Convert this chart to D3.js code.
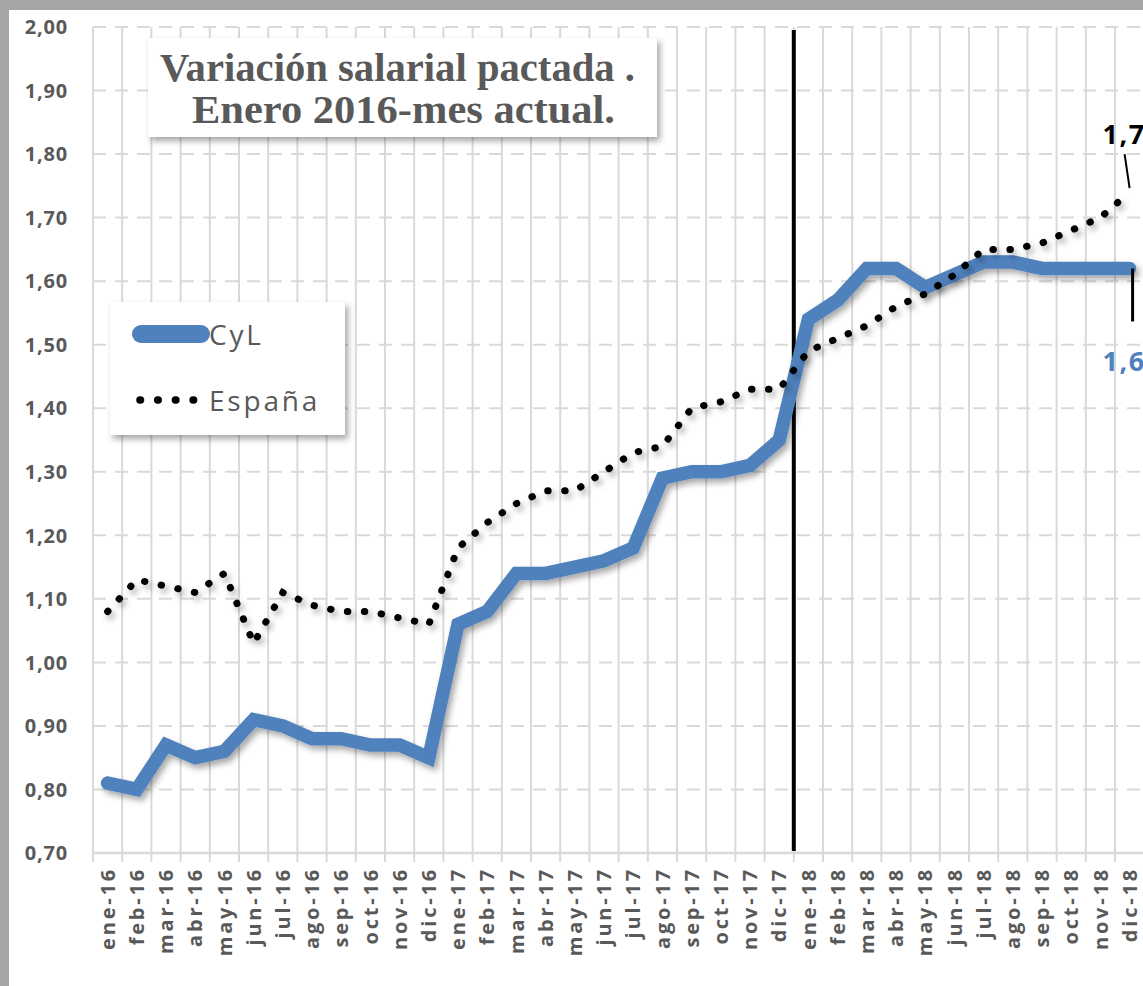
<!DOCTYPE html>
<html>
<head>
<meta charset="utf-8">
<script src="https://cdn.jsdelivr.net/npm/d3@7"></script>
<style>
  body { margin: 0; background: #fff; }
  svg { display: block; }
</style>
</head>
<body>
<div id="chart"></div>
<script>
const months = [
  "ene-16", "feb-16", "mar-16", "abr-16", "may-16", "jun-16",
  "jul-16", "ago-16", "sep-16", "oct-16", "nov-16", "dic-16",
  "ene-17", "feb-17", "mar-17", "abr-17", "may-17", "jun-17",
  "jul-17", "ago-17", "sep-17", "oct-17", "nov-17", "dic-17",
  "ene-18", "feb-18", "mar-18", "abr-18", "may-18", "jun-18",
  "jul-18", "ago-18", "sep-18", "oct-18", "nov-18", "dic-18"
];
const cyl = [
  0.81, 0.80, 0.87, 0.85, 0.86, 0.91, 0.90, 0.88, 0.88, 0.87, 0.87, 0.85,
  1.06, 1.08, 1.14, 1.14, 1.15, 1.16, 1.18, 1.29, 1.30, 1.30, 1.31, 1.35,
  1.54, 1.57, 1.62, 1.62, 1.59, 1.61, 1.63, 1.63, 1.62, 1.62, 1.62, 1.62
];
const espana = [
  1.08, 1.13, 1.12, 1.11, 1.14, 1.03, 1.11, 1.09, 1.08, 1.08, 1.07, 1.06,
  1.18, 1.22, 1.25, 1.27, 1.27, 1.30, 1.33, 1.34, 1.40, 1.41, 1.43, 1.43,
  1.49, 1.51, 1.53, 1.56, 1.58, 1.61, 1.65, 1.65, 1.66, 1.68, 1.70, 1.74
];
const yTicks = [0.7, 0.8, 0.9, 1.0, 1.1, 1.2, 1.3, 1.4, 1.5, 1.6, 1.7, 1.8, 1.9, 2.0];
const titleLines = ["Variación salarial pactada .", "Enero 2016-mes actual."];
const seriesNames = ["CyL", "España"];
const markerMonth = "ene-18";

const width = 1143;
const height = 986;
const blue = "#4f81bd";
const grey = "#595959";
const gridColor = "#d9d9d9";

const svg = d3
  .select("#chart")
  .append("svg")
  .attr("width", width)
  .attr("height", height);

const defs = svg.append("defs");
defs
  .append("filter")
  .attr("id", "shadow")
  .attr("x", "-10%")
  .attr("y", "-10%")
  .attr("width", "130%")
  .attr("height", "140%")
  .append("feDropShadow")
  .attr("dx", 3)
  .attr("dy", 4)
  .attr("stdDeviation", 3)
  .attr("flood-color", "#000")
  .attr("flood-opacity", 0.35);

// outer frame
svg.append("rect").attr("width", width).attr("height", height).attr("fill", "#a6a6a6");
svg.append("rect").attr("x", 9).attr("y", 10).attr("width", width).attr("height", height).attr("fill", "#fff");

const x = d3.scaleBand().domain(months).range([93, 93 + 36 * 29.2]).padding(0);
const y = d3.scaleLinear().domain([0.7, 2.0]).range([853, 27]);
const fmt = (v) => d3.format(".2f")(v).replace(".", ",");

// horizontal grid
svg
  .append("g")
  .selectAll("line")
  .data(yTicks.slice(1))
  .join("line")
  .attr("x1", 93)
  .attr("x2", width)
  .attr("y1", (d) => y(d))
  .attr("y2", (d) => y(d))
  .attr("stroke", gridColor)
  .attr("stroke-width", 2)
  .attr("stroke-dasharray", "13 9");

// vertical grid (band edges)
const edges = months.map((m) => x(m)).concat([x.range()[1]]);
svg
  .append("g")
  .selectAll("line")
  .data(edges)
  .join("line")
  .attr("x1", (d) => d)
  .attr("x2", (d) => d)
  .attr("y1", y(2.0))
  .attr("y2", y(0.7) + 9)
  .attr("stroke", gridColor)
  .attr("stroke-width", 2);

// x axis line
svg
  .append("line")
  .attr("x1", 93)
  .attr("x2", width)
  .attr("y1", y(0.7))
  .attr("y2", y(0.7))
  .attr("stroke", gridColor)
  .attr("stroke-width", 2.5);

// y labels
svg
  .append("g")
  .selectAll("text")
  .data(yTicks)
  .join("text")
  .attr("x", 68)
  .attr("y", (d) => y(d))
  .attr("dy", "0.36em")
  .attr("text-anchor", "end")
  .attr("font-family", "Open Sans")
  .attr("font-weight", "bold")
  .attr("font-size", 20)
  .attr("letter-spacing", 0.8)
  .attr("fill", grey)
  .text(fmt);

// x labels
svg
  .append("g")
  .selectAll("text")
  .data(months)
  .join("text")
  .attr("transform", (d) => `translate(${x(d) + x.bandwidth() / 2},867) rotate(-90)`)
  .attr("dy", "0.36em")
  .attr("text-anchor", "end")
  .attr("font-family", "Open Sans")
  .attr("font-weight", "bold")
  .attr("font-size", 20)
  .attr("letter-spacing", 2.8)
  .attr("fill", grey)
  .text((d) => d);

// black marker line at start of 2018
svg
  .append("line")
  .attr("x1", x(markerMonth))
  .attr("x2", x(markerMonth))
  .attr("y1", y(2.0) + 3)
  .attr("y2", y(0.7) - 2)
  .attr("stroke", "#000")
  .attr("stroke-width", 4);

const line = d3
  .line()
  .x((d, i) => x(months[i]) + x.bandwidth() / 2)
  .y((d) => y(d));

svg
  .append("path")
  .datum(cyl)
  .attr("d", line)
  .attr("fill", "none")
  .attr("stroke", blue)
  .attr("stroke-width", 13.5)
  .attr("stroke-linejoin", "miter")
  .attr("stroke-linecap", "round")
  .attr("filter", "url(#shadow)");

svg
  .append("path")
  .datum(espana)
  .attr("d", line)
  .attr("fill", "none")
  .attr("stroke", "#000")
  .attr("stroke-width", 7)
  .attr("stroke-dasharray", "0.5 16.5")
  .attr("stroke-linecap", "round")
  .attr("filter", "url(#shadow)");

// data labels for the last month (cut by the right edge, as in the source)
const last = months.length - 1;
const px = x(months[last]) + x.bandwidth() / 2;
const pyE = y(espana[last]);
const pyC = y(cyl[last]);

svg
  .append("line")
  .attr("x1", px - 5)
  .attr("y1", pyE - 38)
  .attr("x2", px)
  .attr("y2", pyE - 4)
  .attr("stroke", "#000")
  .attr("stroke-width", 2);
svg
  .append("text")
  .attr("x", px - 27)
  .attr("y", pyE - 48)
  .attr("font-family", "Open Sans")
  .attr("font-weight", "bold")
  .attr("font-size", 27)
  .attr("letter-spacing", 1.5)
  .attr("fill", "#000")
  .text(fmt(espana[last]));

svg
  .append("line")
  .attr("x1", px + 3)
  .attr("y1", pyC)
  .attr("x2", px + 3)
  .attr("y2", pyC + 53)
  .attr("stroke", "#000")
  .attr("stroke-width", 3);
svg
  .append("text")
  .attr("x", px - 27)
  .attr("y", pyC + 103)
  .attr("font-family", "Open Sans")
  .attr("font-weight", "bold")
  .attr("font-size", 27)
  .attr("letter-spacing", 1.5)
  .attr("fill", blue)
  .text(fmt(cyl[last]));

// title box
svg
  .append("rect")
  .attr("x", 148)
  .attr("y", 38)
  .attr("width", 509)
  .attr("height", 99)
  .attr("fill", "#fff")
  .attr("filter", "url(#shadow)");
const titleLens = [475, 423];
svg
  .append("g")
  .selectAll("text")
  .data(titleLines)
  .join("text")
  .attr("x", (d, i) => 160 + (i === 0 ? 0 : 32))
  .attr("y", (d, i) => 81 + i * 42)
  .attr("textLength", (d, i) => titleLens[i])
  .attr("lengthAdjust", "spacingAndGlyphs")
  .attr("font-family", "Liberation Serif")
  .attr("font-weight", "bold")
  .attr("font-size", 39)
  .attr("fill", grey)
  .text((d) => d);

// legend
const legend = svg.append("g");
legend
  .append("rect")
  .attr("x", 110)
  .attr("y", 302)
  .attr("width", 235)
  .attr("height", 133)
  .attr("fill", "#fff")
  .attr("filter", "url(#shadow)");
legend
  .append("line")
  .attr("x1", 141)
  .attr("x2", 201)
  .attr("y1", 334)
  .attr("y2", 334)
  .attr("stroke", blue)
  .attr("stroke-width", 18)
  .attr("stroke-linecap", "round");
legend
  .append("line")
  .attr("x1", 140)
  .attr("x2", 196)
  .attr("y1", 400)
  .attr("y2", 400)
  .attr("stroke", "#000")
  .attr("stroke-width", 7.5)
  .attr("stroke-dasharray", "0.5 17.2")
  .attr("stroke-linecap", "round");
legend
  .selectAll("text")
  .data(seriesNames)
  .join("text")
  .attr("x", 209)
  .attr("y", (d, i) => 345 + i * 66)
  .attr("font-family", "Open Sans")
  .attr("font-size", 28)
  .attr("letter-spacing", 2.8)
  .attr("fill", grey)
  .text((d) => d);
</script>
</body>
</html>
